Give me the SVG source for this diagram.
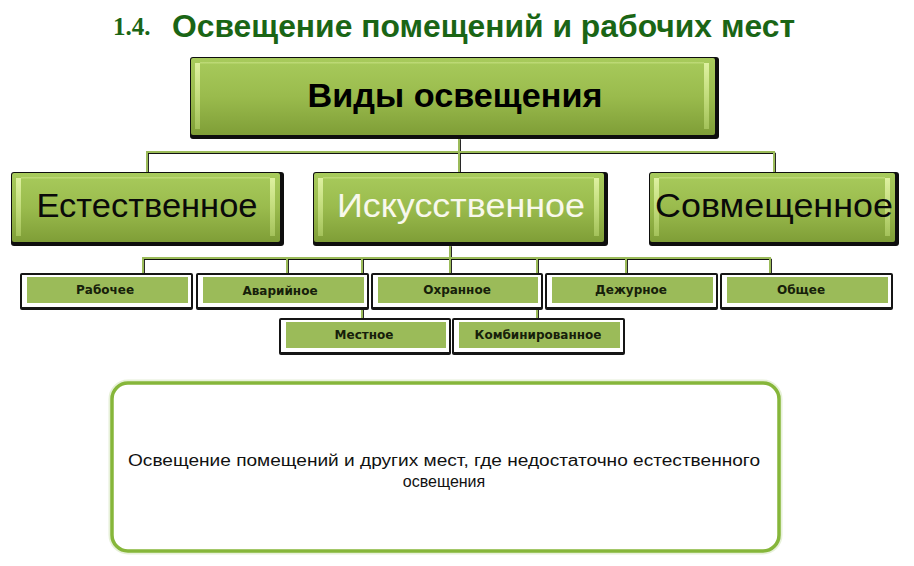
<svg xmlns="http://www.w3.org/2000/svg" width="914" height="566" viewBox="0 0 914 566">
<defs>
<linearGradient id="gb" x1="0" y1="0" x2="0" y2="1">
<stop offset="0" stop-color="#a8cb5c"/>
<stop offset="0.5" stop-color="#9abb4d"/>
<stop offset="1" stop-color="#7f9e37"/>
</linearGradient>
<linearGradient id="hl" x1="0" y1="0" x2="0" y2="1">
<stop offset="0" stop-color="#e4f5a8" stop-opacity="0.9"/>
<stop offset="1" stop-color="#c4e07a" stop-opacity="0.5"/>
</linearGradient>
<style>
.shadow{fill:#0e0e0e}
.face{fill:url(#gb)}
.bev{fill:url(#hl)}
.big{font-family:"Liberation Sans",Arial,sans-serif;font-size:33px;text-anchor:middle}
.sd{fill:#151515}
.sw{fill:#ffffff}
.sg{fill:#9bbb59}
.st{font-family:"DejaVu Sans",Verdana,sans-serif;font-weight:bold;font-size:12px;fill:#16200a;text-anchor:middle}
.cg{fill:none;stroke:#9bbb59;stroke-width:2}
.ck{fill:none;stroke:#111;stroke-width:1.2}
</style>
</defs>
<rect width="914" height="566" fill="#ffffff"/>

<g id="title">
<text x="113" y="35" font-family="Liberation Serif,serif" font-size="25" font-weight="bold" fill="#1a6515">1.4.</text>
<text x="172" y="37" font-family="Liberation Sans,Arial,sans-serif" font-size="32" font-weight="bold" fill="#1a6515" textLength="623" lengthAdjust="spacingAndGlyphs">Освещение  помещений  и  рабочих  мест</text>
</g>

<g id="connectors">
<g transform="translate(1.3,1.3)">
<path class="ck" d="M459 138V152M147 172V152H774V172M459 152V172"/>
<path class="ck" d="M450 245V258M143 273V258H770V273M287 258V273M362 258V318M450 258V273M537 258V318M626 258V273"/>
</g>
<path class="cg" d="M459 138V152M147 172V152H774V172M459 152V172"/>
<path class="cg" d="M450 245V258M143 273V258H770V273M287 258V273M362 258V318M450 258V273M537 258V318M626 258V273"/>
</g>

<g id="n-vidy">
<rect class="shadow" x="190" y="57" width="529" height="82" rx="3"/>
<rect class="face" x="191" y="58" width="524" height="77" rx="2"/>
<rect class="bev" x="195" y="63" width="5" height="66"/>
<rect class="bev" x="704" y="63" width="5" height="66"/>
<rect class="bev" x="200" y="62" width="504" height="2" opacity="0.5"/>
<text class="big" x="455" y="107" font-weight="bold" textLength="295" lengthAdjust="spacingAndGlyphs">Виды освещения</text>
</g>

<g id="n-est">
<rect class="shadow" x="11" y="172" width="273" height="74" rx="3"/>
<rect class="face" x="12" y="173" width="268" height="69" rx="2"/>
<rect class="bev" x="16" y="178" width="5" height="58"/>
<rect class="bev" x="270" y="178" width="5" height="58"/>
<rect class="bev" x="21" y="177" width="249" height="2" opacity="0.5"/>
<text class="big" x="147" y="217" fill="#0a0a0a" textLength="221" lengthAdjust="spacingAndGlyphs">Естественное</text>
</g>

<g id="n-isk">
<rect class="shadow" x="313" y="172" width="295" height="74" rx="3"/>
<rect class="face" x="314" y="173" width="290" height="69" rx="2"/>
<rect class="bev" x="318" y="178" width="5" height="58"/>
<rect class="bev" x="594" y="178" width="5" height="58"/>
<rect class="bev" x="323" y="177" width="271" height="2" opacity="0.5"/>
<text class="big" x="461" y="217" fill="#f8f8ec" textLength="248" lengthAdjust="spacingAndGlyphs">Искусственное</text>
</g>

<g id="n-sov">
<rect class="shadow" x="649" y="172" width="250" height="74" rx="3"/>
<rect class="face" x="650" y="173" width="245" height="69" rx="2"/>
<rect class="bev" x="654" y="178" width="5" height="58"/>
<rect class="bev" x="885" y="178" width="5" height="58"/>
<rect class="bev" x="659" y="177" width="226" height="2" opacity="0.5"/>
<text class="big" x="774" y="217" fill="#0a0a0a" textLength="238" lengthAdjust="spacingAndGlyphs">Совмещенное</text>
</g>

<g id="n-rab">
<rect class="sd" x="20" y="273" width="173" height="37" rx="2"/>
<rect class="sw" x="22" y="275" width="169" height="32"/>
<rect class="sg" x="27" y="277" width="161" height="26"/>
<text class="st" x="105" y="294">Рабочее</text>
</g>
<g id="n-avar">
<rect class="sd" x="196" y="273" width="173" height="37" rx="2"/>
<rect class="sw" x="198" y="275" width="169" height="32"/>
<rect class="sg" x="203" y="277" width="161" height="26"/>
<text class="st" x="280" y="295">Аварийное</text>
</g>
<g id="n-ohr">
<rect class="sd" x="371" y="273" width="172" height="37" rx="2"/>
<rect class="sw" x="373" y="275" width="168" height="32"/>
<rect class="sg" x="378" y="277" width="160" height="26"/>
<text class="st" x="457" y="294">Охранное</text>
</g>
<g id="n-dezh">
<rect class="sd" x="545" y="273" width="173" height="37" rx="2"/>
<rect class="sw" x="547" y="275" width="169" height="32"/>
<rect class="sg" x="552" y="277" width="161" height="26"/>
<text class="st" x="631" y="294">Дежурное</text>
</g>
<g id="n-obsh">
<rect class="sd" x="720" y="273" width="173" height="37" rx="2"/>
<rect class="sw" x="722" y="275" width="169" height="32"/>
<rect class="sg" x="727" y="277" width="161" height="26"/>
<text class="st" x="801" y="294">Общее</text>
</g>
<g id="n-mest">
<rect class="sd" x="279" y="318" width="172" height="37" rx="2"/>
<rect class="sw" x="281" y="320" width="168" height="32"/>
<rect class="sg" x="286" y="322" width="160" height="26"/>
<text class="st" x="364" y="339">Местное</text>
</g>
<g id="n-komb">
<rect class="sd" x="452" y="318" width="173" height="37" rx="2"/>
<rect class="sw" x="454" y="320" width="169" height="32"/>
<rect class="sg" x="459" y="322" width="161" height="26"/>
<text class="st" x="538" y="339">Комбинированное</text>
</g>

<g id="n-desc">
<rect x="112" y="383" width="667" height="168" rx="16" fill="#ffffff" stroke="#d8e8c0" stroke-width="7" opacity="0.6"/>
<rect x="112" y="383" width="667" height="168" rx="16" fill="#ffffff" stroke="#86b63a" stroke-width="3.5"/>
<text x="444" y="466" font-family="Liberation Sans,Arial,sans-serif" font-size="16" fill="#111" text-anchor="middle" textLength="632" lengthAdjust="spacingAndGlyphs">Освещение помещений и других мест, где недостаточно естественного</text>
<text x="444" y="487" font-family="Liberation Sans,Arial,sans-serif" font-size="16" fill="#111" text-anchor="middle">освещения</text>
</g>
</svg>
